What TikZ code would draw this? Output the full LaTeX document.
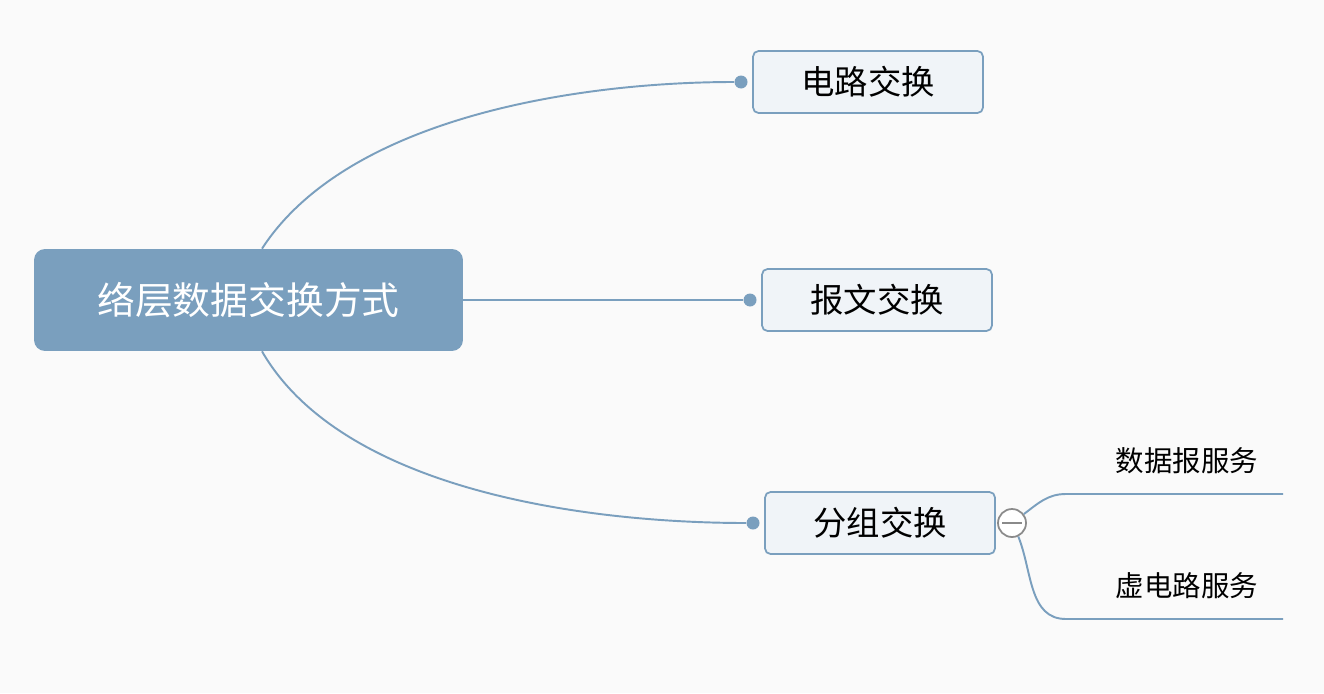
\documentclass[tikz,border=0pt]{standalone}
\usepackage{fontspec}
\setmainfont{Noto Sans CJK SC}
\usepackage{xcolor}
\usepackage{tikz}

\definecolor{steel}{HTML}{7A9FBE}
\definecolor{paper}{HTML}{FAFAFA}
\definecolor{topicfill}{HTML}{F0F4F8}
\definecolor{foldgray}{HTML}{8A8A8A}

\begin{document}
\begin{tikzpicture}[
  x=0.02cm,
  y=-0.02cm,
  root/.style={rectangle, rounded corners=2.2mm, fill=steel, text=white,
    minimum width=8.58cm, minimum height=2.04cm, inner sep=0pt,
    font=\fontsize{21.5}{25}\selectfont},
  topic/.style={rectangle, rounded corners=1.1mm, draw=steel, line width=1pt,
    fill=topicfill, text=black, minimum width=4.6cm, minimum height=1.24cm,
    inner sep=0pt, font=\fontsize{19}{22}\selectfont},
  subtopic/.style={text=black, inner sep=0pt, font=\fontsize{16.2}{19}\selectfont},
  dot/.style={circle, fill=steel, minimum size=0.26cm, inner sep=0pt},
  fold/.style={circle, draw=foldgray, fill=white, line width=1pt,
    minimum size=0.56cm, inner sep=0pt},
  branch/.style={draw=steel, line width=1.1pt}
]
  % page
  \fill[paper] (0,0) rectangle (1324,693);
  \useasboundingbox (0,0) rectangle (1324,693);

  % central topic
  \node[root] (root) at (248.5,300) {络层数据交换方式};

  % main topics
  \node[topic] (circuit) at (868,82) {电路交换};
  \node[topic] (message) at (877,300) {报文交换};
  \node[topic] (packet) at (880,523) {分组交换};

  \node[dot] (d1) at (741,82) {};
  \node[dot] (d2) at (750,300) {};
  \node[dot] (d3) at (753,523) {};

  \draw[branch] ([xshift=0.27cm]root.north) to[out=57, in=180, looseness=0.8] (d1);
  \draw[branch] (root.east) -- (d2);
  \draw[branch] ([xshift=0.27cm]root.south) to[out=-60, in=180, looseness=0.8] (d3);

  % packet switching subtopics
  \node[fold] (fold) at (1012,523) {};
  \draw[foldgray, line width=1pt] ([xshift=0.1cm]fold.west) -- ([xshift=-0.1cm]fold.east);

  \coordinate (dg0) at (1066,494);
  \coordinate (dg1) at (1283,494);
  \coordinate (vc0) at (1066,619);
  \coordinate (vc1) at (1283,619);
  \node[subtopic] (datagram) at (1187,461) {数据报服务};
  \node[subtopic] (virtual) at (1187,586) {虚电路服务};

  \draw[branch] (fold.37) to[out=37, in=180] (dg0) -- (dg1);
  \draw[branch] (fold.-65) to[out=-68, in=180] (vc0) -- (vc1);
\end{tikzpicture}
\end{document}
